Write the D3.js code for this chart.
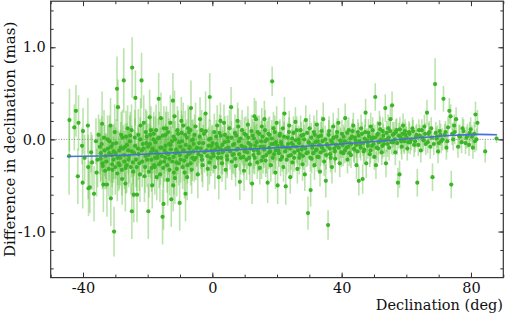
<!DOCTYPE html>
<html>
<head>
<meta charset="utf-8">
<script src="https://cdn.jsdelivr.net/npm/d3@7"></script>
<style>
  body { margin: 0; background: #fff; }
  svg { display: block; }
  text { font-family: "DejaVu Serif", serif; fill: #111; }
</style>
</head>
<body>
<script>
// [declination (deg), difference (mas), error (mas)]
const southCap = [
  [-44.2, 0.21, 0.34], [-44.3, -0.18, 0.42], [-42.2, 0.31, 0.28], [-42.7, 0.13, 0.25],
  [-41.4, 0.18, 0.3], [-41.6, -0.40, 0.3], [-40.1, -0.47, 0.28], [-40.0, 0.09, 0.25],
  [-40.3, -0.07, 0.2], [-39.5, -0.20, 0.25], [-38.5, 0.15, 0.3], [-38.4, -0.30, 0.35],
  [-38.3, -0.53, 0.3], [-37.9, -0.52, 0.28], [-37.5, -0.14, 0.22], [-37.2, -0.25, 0.3],
  [-36.6, -0.59, 0.3], [-36.0, -0.02, 0.25], [-35.8, -0.36, 0.26], [-35.5, -0.22, 0.3],
  [-35.2, 0.05, 0.22]
]
const south = [
  [-34.8, -0.08, 0.3], [-34.1, 0.17, 0.35], [-34.5, -0.15, 0.3], [-34.0, -0.26, 0.28],
  [-33.7, -0.49, 0.3], [-33.5, 0.02, 0.3], [-33.2, -0.34, 0.2], [-33.0, -0.18, 0.25],
  [-32.6, -0.49, 0.35], [-32.3, -0.10, 0.25], [-32.0, -0.32, 0.3], [-31.8, -0.02, 0.28],
  [-31.5, 0.15, 0.3], [-31.4, -0.64, 0.3], [-31.2, -0.17, 0.3], [-31.0, -0.27, 0.25],
  [-30.8, -0.05, 0.2], [-30.6, -0.22, 0.25], [-30.4, -1.00, 0.27], [-30.2, 0.08, 0.3],
  [-30.0, -0.30, 0.3], [-29.9, -0.15, 0.28], [-29.5, 0.55, 0.35], [-29.4, -0.37, 0.3],
  [-29.2, 0.35, 0.3], [-29.0, -0.26, 0.3], [-28.8, -0.12, 0.2], [-28.5, -0.20, 0.3],
  [-28.2, 0.05, 0.25], [-28.0, -0.33, 0.28], [-27.9, -0.43, 0.28], [-27.6, -0.10, 0.25],
  [-27.4, 0.64, 0.35], [-27.2, -0.24, 0.3], [-27.0, -0.08, 0.25], [-26.9, -0.48, 0.3],
  [-26.7, 0.03, 0.28], [-26.5, -0.28, 0.3], [-26.2, 0.12, 0.25], [-26.0, -0.12, 0.25],
  [-25.8, -0.18, 0.3], [-25.5, -0.02, 0.28], [-25.2, -0.30, 0.3], [-25.0, 0.10, 0.28],
  [-24.8, 0.78, 0.33], [-24.9, -0.78, 0.3], [-24.5, -0.35, 0.28], [-24.3, -0.60, 0.3],
  [-24.2, -0.15, 0.25], [-24.0, 0.02, 0.3], [-23.8, 0.45, 0.3], [-23.6, -0.22, 0.3],
  [-23.3, -0.60, 0.3], [-23.0, -0.10, 0.25], [-22.9, 0.05, 0.28], [-22.6, -0.26, 0.3],
  [-22.4, -0.38, 0.3], [-22.2, 0.15, 0.3], [-21.9, 0.64, 0.3], [-21.8, -0.12, 0.25],
  [-21.5, -0.05, 0.25], [-21.2, 0.18, 0.3], [-21.0, -0.40, 0.28], [-20.8, -0.30, 0.28],
  [-20.6, 0.08, 0.25], [-20.4, -0.04, 0.25], [-20.2, -0.22, 0.3]
]
const equatorSouth = [
  [-19.9, -0.08, 0.25], [-19.8, -0.78, 0.3], [-19.6, -0.35, 0.28], [-19.4, 0.24, 0.3],
  [-19.2, 0.05, 0.22], [-19.0, -0.14, 0.28], [-18.9, -0.22, 0.3], [-18.6, -0.50, 0.25],
  [-18.4, -0.12, 0.25], [-18.2, 0.00, 0.25], [-18.0, -0.28, 0.22], [-17.8, -0.30, 0.3],
  [-17.6, -0.03, 0.28], [-17.4, 0.10, 0.28], [-17.2, -0.41, 0.25], [-17.0, -0.20, 0.25],
  [-16.9, -0.16, 0.2], [-16.6, 0.44, 0.28], [-16.4, 0.02, 0.28], [-16.2, -0.38, 0.3],
  [-16.0, -0.25, 0.24], [-15.9, 0.23, 0.28], [-15.7, -0.09, 0.3], [-15.4, -0.84, 0.3],
  [-15.2, -0.31, 0.22], [-15.1, -0.70, 0.28], [-14.8, -0.12, 0.25], [-14.6, -0.20, 0.26],
  [-14.4, 0.05, 0.25], [-14.2, 0.12, 0.24], [-14.0, -0.28, 0.3], [-13.8, -0.44, 0.28],
  [-13.6, -0.16, 0.22], [-13.4, -0.05, 0.28], [-13.2, -0.33, 0.28], [-13.0, 0.18, 0.3],
  [-12.9, -0.06, 0.2], [-12.7, -0.65, 0.3], [-12.4, -0.24, 0.26], [-12.2, 0.42, 0.3],
  [-12.1, -0.50, 0.28], [-12.0, 0.03, 0.24], [-11.7, 0.25, 0.28], [-11.6, -0.42, 0.28],
  [-11.4, -0.15, 0.25], [-11.2, -0.11, 0.22], [-11.0, -0.32, 0.3], [-10.8, 0.10, 0.26],
  [-10.6, 0.06, 0.25], [-10.4, -0.26, 0.24], [-10.1, -0.69, 0.3], [-9.9, -0.08, 0.2],
  [-9.8, -0.22, 0.25], [-9.6, 0.20, 0.26], [-9.4, -0.02, 0.28], [-9.2, -0.30, 0.24],
  [-9.0, 0.15, 0.25], [-8.8, -0.12, 0.22], [-8.6, -0.36, 0.28], [-8.4, 0.05, 0.26],
  [-8.3, -0.59, 0.3], [-8.0, -0.19, 0.24], [-7.8, -0.41, 0.25], [-7.7, -0.28, 0.2],
  [-7.5, 0.12, 0.25], [-7.3, 0.08, 0.26], [-7.1, -0.10, 0.22], [-6.9, -0.15, 0.22],
  [-6.6, 0.34, 0.3], [-6.4, -0.33, 0.26], [-6.2, -0.20, 0.25], [-6.0, 0.00, 0.22],
  [-5.8, -0.05, 0.22], [-5.6, -0.22, 0.24], [-5.2, 0.14, 0.26], [-4.9, -0.10, 0.2],
  [-4.5, -0.38, 0.26], [-4.1, -0.04, 0.22], [-3.8, 0.22, 0.24], [-3.4, -0.18, 0.2],
  [-3.0, -0.28, 0.24], [-2.6, 0.06, 0.22], [-2.1, 0.28, 0.24], [-1.8, -0.12, 0.2],
  [-1.4, -0.32, 0.24], [-1.0, 0.00, 0.22], [-0.8, 0.46, 0.26], [-0.5, -0.20, 0.2],
  [-0.2, -0.07, 0.22]
]
const equatorNorth = [
  [0.2, -0.15, 0.22], [0.6, 0.08, 0.2], [0.8, -0.30, 0.24], [1.3, -0.05, 0.18],
  [1.5, 0.15, 0.22], [1.7, -0.20, 0.2], [2.0, -0.41, 0.24], [2.4, -0.10, 0.18],
  [2.6, 0.04, 0.22], [3.0, -0.26, 0.2], [3.2, -0.14, 0.24], [3.6, 0.18, 0.2],
  [3.8, -0.03, 0.18], [4.1, -0.33, 0.22], [4.5, -0.18, 0.2], [4.7, 0.02, 0.24],
  [5.1, -0.09, 0.18], [5.3, 0.12, 0.2], [5.8, 0.35, 0.22], [6.0, -0.24, 0.2],
  [6.4, -0.06, 0.18], [6.6, -0.16, 0.22], [7.0, 0.07, 0.2], [7.2, -0.29, 0.22],
  [7.6, -0.11, 0.18], [7.8, 0.20, 0.2], [8.2, -0.02, 0.22], [8.5, -0.46, 0.2],
  [8.8, -0.20, 0.18], [9.2, 0.10, 0.22], [9.4, -0.08, 0.2], [9.8, -0.34, 0.22],
  [10.0, -0.13, 0.18], [10.4, 0.05, 0.2], [10.6, -0.22, 0.22], [11.0, 0.16, 0.2],
  [11.2, -0.04, 0.18], [11.6, -0.27, 0.22], [11.8, -0.10, 0.2], [12.1, 0.09, 0.18],
  [12.3, -0.48, 0.22], [12.7, -0.17, 0.2], [12.9, 0.01, 0.18], [13.3, -0.07, 0.22],
  [13.5, 0.22, 0.2], [13.9, -0.25, 0.18], [14.1, -0.12, 0.22], [14.5, 0.06, 0.2],
  [14.7, -0.31, 0.18], [15.1, -0.02, 0.22], [15.3, 0.14, 0.2], [15.7, -0.19, 0.18],
  [15.9, -0.08, 0.2], [16.3, 0.10, 0.22], [16.5, -0.23, 0.18], [16.9, 0.00, 0.2],
  [17.1, -0.47, 0.22], [17.5, -0.14, 0.18], [17.7, 0.05, 0.2], [18.1, -0.28, 0.18],
  [18.3, -0.05, 0.2], [18.5, 0.63, 0.16], [18.9, 0.12, 0.18], [19.1, -0.16, 0.2],
  [19.5, -0.36, 0.18], [19.7, -0.03, 0.2], [19.9, 0.18, 0.18]
]
const midNorth = [
  [20.2, -0.50, 0.2], [20.4, -0.12, 0.18], [20.8, 0.04, 0.16], [21.1, -0.22, 0.18],
  [21.4, -0.06, 0.15], [21.8, 0.12, 0.18], [22.0, -0.30, 0.16], [22.3, 0.28, 0.18],
  [22.7, -0.51, 0.2], [22.9, -0.09, 0.15], [23.3, 0.02, 0.16], [23.6, -0.18, 0.18],
  [23.8, 0.15, 0.16], [24.1, -0.41, 0.18], [24.5, -0.04, 0.15], [24.8, -0.25, 0.16],
  [25.1, 0.07, 0.18], [25.4, -0.14, 0.15], [25.7, 0.19, 0.16], [26.0, -0.08, 0.18],
  [26.3, -0.32, 0.16], [26.7, 0.00, 0.15], [26.9, -0.20, 0.18], [27.3, 0.10, 0.16],
  [27.6, -0.11, 0.15], [27.9, -0.27, 0.18], [28.2, 0.05, 0.16], [28.6, -0.38, 0.18],
  [28.9, 0.21, 0.16], [29.1, -0.15, 0.15], [29.6, -0.80, 0.18], [29.8, -0.03, 0.16],
  [30.1, 0.12, 0.15], [30.4, -0.55, 0.18], [30.7, -0.21, 0.16], [31.0, -0.06, 0.15],
  [31.4, 0.08, 0.18], [31.6, -0.28, 0.16], [32.0, -0.12, 0.15], [32.3, 0.16, 0.16],
  [32.6, -0.02, 0.15], [32.9, -0.19, 0.18], [33.3, -0.35, 0.16], [33.6, 0.04, 0.15],
  [33.9, -0.09, 0.16], [34.3, 0.22, 0.18], [34.6, -0.24, 0.16], [35.1, -0.45, 0.18],
  [35.4, -0.05, 0.15], [35.8, -0.93, 0.16], [36.1, 0.09, 0.16], [36.4, -0.16, 0.15],
  [36.8, -0.01, 0.16], [37.0, -0.30, 0.18], [37.4, 0.14, 0.15], [37.7, -0.10, 0.16],
  [38.0, -0.21, 0.15], [38.4, 0.03, 0.16], [38.7, -0.07, 0.15], [39.0, 0.18, 0.16],
  [39.4, -0.26, 0.15], [39.7, -0.04, 0.16]
]
const north = [
  [40.1, 0.06, 0.15], [40.5, -0.15, 0.14], [40.8, -0.02, 0.15], [41.1, 0.23, 0.16],
  [41.5, -0.09, 0.14], [41.8, -0.22, 0.15], [42.2, 0.10, 0.14], [42.5, -0.04, 0.15],
  [42.9, -0.17, 0.14], [43.2, 0.03, 0.15], [43.6, 0.15, 0.14], [43.9, -0.11, 0.15],
  [44.3, -0.01, 0.14], [44.6, -0.28, 0.15], [45.0, 0.08, 0.14], [45.3, -0.45, 0.16],
  [45.7, -0.06, 0.14], [46.0, 0.12, 0.15], [46.5, -0.43, 0.16], [46.8, -0.13, 0.14],
  [47.1, 0.01, 0.15], [47.4, 0.29, 0.15], [47.6, -0.26, 0.16], [48.0, -0.03, 0.14],
  [48.3, 0.07, 0.15], [48.7, -0.16, 0.14], [49.0, 0.14, 0.15], [49.4, -0.07, 0.14],
  [49.7, 0.02, 0.15], [50.1, -0.19, 0.14], [50.4, 0.46, 0.15], [50.6, -0.28, 0.15],
  [51.0, 0.05, 0.14], [51.3, -0.10, 0.15], [51.7, 0.17, 0.14], [52.0, -0.02, 0.15],
  [52.4, -0.14, 0.14], [52.7, 0.09, 0.15], [53.1, -0.05, 0.14], [53.5, 0.34, 0.15],
  [53.7, -0.26, 0.15], [54.0, 0.00, 0.14], [54.4, 0.12, 0.15], [54.7, -0.09, 0.14],
  [55.1, 0.22, 0.15], [55.6, 0.37, 0.15], [55.9, -0.03, 0.14], [56.2, 0.06, 0.13],
  [56.6, -0.14, 0.14], [57.0, 0.10, 0.13], [57.4, -0.47, 0.16], [57.9, -0.38, 0.15],
  [58.2, 0.02, 0.13], [58.6, -0.08, 0.14], [59.0, 0.15, 0.13], [59.4, -0.02, 0.14],
  [59.8, 0.05, 0.13]
]
const northCap = [
  [60.3, -0.10, 0.13], [60.8, 0.08, 0.12], [61.2, -0.03, 0.13], [61.9, 0.12, 0.12],
  [62.4, -0.06, 0.13], [63.0, 0.03, 0.12], [63.4, -0.47, 0.15], [63.9, 0.10, 0.12],
  [64.5, -0.12, 0.13], [65.0, 0.02, 0.12], [65.6, 0.14, 0.13], [66.0, -0.05, 0.12],
  [66.4, 0.29, 0.14], [66.9, 0.06, 0.12], [67.4, -0.08, 0.13], [67.7, 0.12, 0.12],
  [68.1, -0.41, 0.15], [68.9, 0.60, 0.28], [69.3, 0.01, 0.12], [69.8, -0.13, 0.13],
  [70.3, 0.09, 0.12], [70.8, -0.02, 0.13], [71.5, 0.44, 0.14], [71.9, 0.05, 0.12],
  [72.4, -0.09, 0.13], [72.9, 0.13, 0.12], [73.3, 0.31, 0.14], [73.7, 0.25, 0.13],
  [73.9, -0.49, 0.15], [74.5, 0.00, 0.12], [75.0, 0.08, 0.13], [75.4, 0.22, 0.13],
  [76.0, -0.08, 0.12], [76.6, 0.03, 0.13], [77.1, -0.03, 0.12], [77.7, 0.09, 0.13],
  [78.3, -0.04, 0.12], [78.9, 0.04, 0.13], [79.4, -0.06, 0.12], [79.9, 0.11, 0.13],
  [80.6, -0.09, 0.12], [81.0, 0.06, 0.13], [81.4, 0.27, 0.14], [81.7, 0.00, 0.12],
  [82.0, 0.18, 0.14], [84.4, -0.13, 0.12], [87.9, 0.01, 0.05]
]
// the dense core of the cloud, close to the fit
const coreSouth = [
  [-34.6, -0.21, 0.26], [-34.2, -0.05, 0.3], [-33.9, -0.29, 0.24], [-33.3, -0.12, 0.28],
  [-32.8, -0.24, 0.3], [-32.4, 0.00, 0.26], [-31.9, -0.15, 0.3], [-31.3, -0.08, 0.24],
  [-30.9, -0.33, 0.28], [-30.5, -0.13, 0.3], [-29.7, -0.04, 0.26], [-29.3, -0.20, 0.3],
  [-28.7, -0.28, 0.26], [-28.3, -0.09, 0.28], [-27.8, 0.02, 0.3], [-27.3, -0.17, 0.26],
  [-26.8, -0.31, 0.28], [-26.4, -0.06, 0.24], [-25.9, -0.22, 0.3], [-25.4, 0.04, 0.26],
  [-24.9, -0.13, 0.28], [-24.6, -0.25, 0.24], [-23.9, -0.07, 0.3], [-23.4, -0.30, 0.26],
  [-22.8, -0.16, 0.28], [-22.3, 0.00, 0.24], [-21.7, -0.24, 0.28], [-21.3, -0.10, 0.26],
  [-20.7, -0.18, 0.24], [-20.3, 0.03, 0.28],
  [-19.7, -0.17, 0.24], [-19.3, -0.05, 0.22], [-18.8, -0.31, 0.26], [-18.5, -0.10, 0.22],
  [-18.1, 0.06, 0.24], [-17.7, -0.20, 0.2], [-17.3, -0.13, 0.24], [-16.8, 0.01, 0.22],
  [-16.5, -0.27, 0.26], [-16.1, -0.09, 0.22], [-15.6, -0.18, 0.24], [-15.3, 0.04, 0.2],
  [-14.9, -0.24, 0.22], [-14.5, -0.07, 0.24], [-14.1, -0.15, 0.2], [-13.7, 0.08, 0.22],
  [-13.3, -0.21, 0.24], [-12.8, -0.11, 0.2], [-12.5, -0.02, 0.22], [-12.0, -0.19, 0.24],
  [-11.5, 0.00, 0.2], [-11.1, -0.25, 0.22], [-10.7, -0.14, 0.24], [-10.3, -0.03, 0.2],
  [-10.0, -0.17, 0.22], [-9.5, 0.07, 0.24], [-9.1, -0.12, 0.2], [-8.7, -0.23, 0.22],
  [-8.2, -0.06, 0.24], [-7.9, 0.02, 0.2], [-7.4, -0.16, 0.22], [-7.0, -0.08, 0.2],
  [-6.7, -0.26, 0.24], [-6.3, -0.01, 0.22], [-5.9, -0.13, 0.2], [-5.5, 0.05, 0.22],
  [-5.1, -0.20, 0.24], [-4.7, -0.09, 0.2], [-4.3, -0.16, 0.22], [-3.9, 0.03, 0.2],
  [-3.6, -0.10, 0.22], [-3.2, -0.22, 0.24], [-2.8, -0.04, 0.2], [-2.4, -0.14, 0.22],
  [-2.0, 0.09, 0.2], [-1.6, -0.18, 0.22], [-1.2, -0.07, 0.2], [-0.9, -0.25, 0.24],
  [-0.6, 0.01, 0.2], [-0.3, -0.12, 0.22], [-19.0, 0.10, 0.26], [-15.0, 0.12, 0.24],
  [-11.9, -0.36, 0.24], [-6.8, 0.10, 0.22], [-3.3, 0.10, 0.22]
]
const coreNorth = [
  [0.1, -0.04, 0.2], [0.4, -0.18, 0.18], [0.9, -0.11, 0.2], [1.2, 0.03, 0.18],
  [1.6, -0.08, 0.2], [1.9, -0.15, 0.18], [2.2, 0.07, 0.2], [2.7, -0.20, 0.18],
  [3.1, -0.06, 0.2], [3.4, -0.12, 0.18], [3.9, 0.05, 0.2], [4.3, -0.10, 0.18],
  [4.6, -0.22, 0.2], [4.9, -0.02, 0.18], [5.5, -0.13, 0.2], [5.9, 0.02, 0.18],
  [6.2, -0.17, 0.2], [6.8, -0.05, 0.18], [7.1, -0.21, 0.2], [7.4, 0.04, 0.18],
  [7.9, -0.10, 0.2], [8.3, -0.16, 0.18], [8.7, 0.01, 0.2], [9.0, -0.07, 0.18],
  [9.6, -0.19, 0.2], [9.9, 0.06, 0.18], [10.2, -0.09, 0.2], [10.8, -0.14, 0.18],
  [11.1, 0.02, 0.2], [11.4, -0.20, 0.18], [11.9, -0.06, 0.2], [12.5, 0.04, 0.18],
  [12.8, -0.12, 0.2], [13.1, -0.20, 0.18], [13.7, -0.03, 0.2], [14.0, 0.08, 0.18],
  [14.3, -0.15, 0.2], [14.9, -0.08, 0.18], [15.2, -0.23, 0.2], [15.5, 0.03, 0.18],
  [16.0, -0.11, 0.2], [16.4, -0.02, 0.18], [16.7, -0.17, 0.2], [17.3, 0.06, 0.18],
  [17.6, -0.09, 0.2], [17.9, -0.13, 0.18], [18.4, 0.01, 0.2], [18.7, -0.20, 0.18],
  [19.0, -0.05, 0.2], [19.3, 0.08, 0.18], [19.6, -0.12, 0.2], [2.5, 0.20, 0.2],
  [8.0, 0.14, 0.2], [13.0, 0.25, 0.2], [16.1, 0.22, 0.2],
  [20.1, -0.07, 0.16], [20.6, -0.15, 0.15], [20.9, 0.06, 0.16], [21.3, -0.03, 0.15],
  [21.6, -0.19, 0.16], [21.9, -0.08, 0.15], [22.2, 0.03, 0.16], [22.5, -0.13, 0.15],
  [23.0, -0.22, 0.16], [23.4, -0.05, 0.15], [23.7, 0.08, 0.16], [24.0, -0.10, 0.15],
  [24.3, -0.17, 0.16], [24.7, 0.01, 0.15], [25.0, -0.06, 0.16], [25.3, -0.20, 0.15],
  [25.8, -0.01, 0.16], [26.1, 0.10, 0.15], [26.5, -0.12, 0.16], [26.8, -0.04, 0.15],
  [27.1, -0.16, 0.16], [27.5, 0.04, 0.15], [27.8, -0.08, 0.16], [28.1, -0.18, 0.15],
  [28.4, 0.00, 0.16], [28.8, -0.10, 0.15], [29.3, 0.07, 0.16], [29.5, -0.14, 0.15],
  [30.0, -0.04, 0.16], [30.3, -0.20, 0.15], [30.6, 0.02, 0.16], [30.9, -0.09, 0.15],
  [31.2, -0.15, 0.16], [31.7, 0.05, 0.15], [31.9, -0.03, 0.16], [32.2, -0.11, 0.15],
  [32.5, -0.19, 0.16], [32.8, 0.03, 0.15], [33.1, -0.06, 0.16], [33.5, -0.14, 0.15],
  [33.8, 0.09, 0.16], [34.1, -0.02, 0.15], [34.5, -0.12, 0.16], [34.9, 0.00, 0.15],
  [35.2, -0.17, 0.16], [35.6, -0.07, 0.15], [36.0, 0.05, 0.16], [36.3, -0.10, 0.15],
  [36.6, -0.20, 0.16], [37.1, -0.04, 0.15], [37.5, 0.02, 0.16], [37.9, -0.13, 0.15],
  [38.2, -0.06, 0.16], [38.6, 0.08, 0.15], [39.1, -0.09, 0.16], [39.5, -0.01, 0.15],
  [39.9, -0.14, 0.16]
]
const coreFarNorth = [
  [40.3, -0.06, 0.14], [40.6, 0.03, 0.13], [41.0, -0.12, 0.14], [41.3, -0.03, 0.13],
  [41.7, 0.07, 0.14], [42.0, -0.08, 0.13], [42.4, -0.15, 0.14], [42.7, 0.01, 0.13],
  [43.0, -0.05, 0.14], [43.4, 0.09, 0.13], [43.8, -0.10, 0.14], [44.1, 0.02, 0.13],
  [44.5, -0.06, 0.14], [44.9, -0.13, 0.13], [45.2, 0.04, 0.14], [45.5, -0.02, 0.13],
  [45.9, -0.09, 0.14], [46.3, 0.06, 0.13], [46.6, -0.04, 0.14], [47.0, -0.11, 0.13],
  [47.3, 0.08, 0.14], [47.8, -0.01, 0.13], [48.1, -0.07, 0.14], [48.5, 0.03, 0.13],
  [48.9, -0.12, 0.14], [49.2, 0.00, 0.13], [49.6, 0.10, 0.14], [49.9, -0.05, 0.13],
  [50.3, 0.02, 0.14], [50.8, -0.09, 0.13], [51.2, 0.06, 0.14], [51.5, -0.03, 0.13],
  [51.9, 0.11, 0.14], [52.2, 0.00, 0.13], [52.6, -0.07, 0.14], [52.9, 0.04, 0.13],
  [53.3, -0.01, 0.14], [53.9, 0.07, 0.13], [54.2, -0.05, 0.14], [54.6, 0.02, 0.13],
  [55.0, 0.09, 0.14], [55.4, -0.03, 0.13], [55.8, 0.05, 0.14], [56.4, 0.00, 0.13],
  [56.8, 0.08, 0.14], [57.2, -0.04, 0.13], [57.7, 0.04, 0.14], [58.0, 0.11, 0.13],
  [58.4, -0.02, 0.14], [58.8, 0.06, 0.13], [59.2, 0.00, 0.14], [59.6, 0.09, 0.13],
  [60.1, 0.02, 0.12], [60.6, -0.03, 0.12], [61.0, 0.06, 0.12], [61.5, 0.00, 0.12],
  [62.1, 0.09, 0.12], [62.7, -0.02, 0.12], [63.2, 0.05, 0.12], [63.7, -0.06, 0.12],
  [64.2, 0.04, 0.12], [64.8, 0.10, 0.12], [65.3, -0.01, 0.12], [65.8, 0.06, 0.12],
  [66.6, -0.03, 0.12], [67.1, 0.08, 0.12], [67.9, 0.02, 0.12], [68.5, -0.05, 0.12],
  [69.1, 0.07, 0.12], [69.6, 0.03, 0.12], [70.1, -0.04, 0.12], [70.6, 0.05, 0.12],
  [71.2, 0.00, 0.12], [72.1, 0.08, 0.12], [72.7, -0.02, 0.12], [74.2, 0.06, 0.12],
  [74.8, 0.15, 0.12], [76.3, 0.04, 0.12], [77.4, 0.12, 0.12], [78.6, 0.02, 0.12],
  [79.6, 0.07, 0.12], [80.3, 0.03, 0.12], [81.2, -0.02, 0.12]
]
// smooth fit (blue curve)
const fitDecl = [-45, -30, -15, 0, 20, 40, 55, 65, 75, 82, 88]
const fitDiff = [-0.185, -0.175, -0.15, -0.125, -0.09, -0.05, -0.01, 0.02, 0.045, 0.055, 0.05]

const xTicks = [-40, 0, 40, 80]
const yTicks = [-1, 0, 1]

const points = [].concat(southCap, south, equatorSouth, equatorNorth, midNorth, north, northCap,
  coreSouth, coreNorth, coreFarNorth)

const svg = d3.select('body').append('svg')
  .attr('width', 506)
  .attr('height', 314)

const x = d3.scaleLinear().domain([-50, 90]).range([50.7, 503.3])
const y = d3.scaleLinear().domain([-1.5, 1.5]).range([277.6, 1.2])

// zero line
svg.append('line')
  .attr('x1', x(-50)).attr('x2', x(90))
  .attr('y1', y(0)).attr('y2', y(0))
  .attr('stroke', '#777')
  .attr('stroke-width', 0.9)
  .attr('stroke-dasharray', '1,1.6')

// error bars
svg.append('g')
  .attr('stroke', '#5cbf3c')
  .attr('stroke-opacity', 0.42)
  .attr('stroke-width', 1.6)
  .selectAll('line')
  .data(points)
  .enter()
  .append('line')
  .attr('x1', d => x(d[0]))
  .attr('x2', d => x(d[0]))
  .attr('y1', d => y(d[1] - d[2]))
  .attr('y2', d => y(d[1] + d[2]))

// points
svg.append('g')
  .selectAll('circle')
  .data(points)
  .enter()
  .append('circle')
  .attr('cx', d => x(d[0]))
  .attr('cy', d => y(d[1]))
  .attr('r', 2.1)
  .attr('fill', '#3cb428')

// fit line
const fit = fitDecl.map((d, i) => [d, fitDiff[i]])
svg.append('path')
  .datum(fit)
  .attr('fill', 'none')
  .attr('stroke', '#4a6fd6')
  .attr('stroke-width', 1.6)
  .attr('d', d3.line().x(d => x(d[0])).y(d => y(d[1])).curve(d3.curveMonotoneX))

// axes: ticks inward on all four sides
const fmtX = d => String(d)
const fmtY = d => d.toFixed(1)
const minorX = d3.range(-50, 91, 10)
const minorY = d3.range(-14, 15, 2).map(v => v / 10)

function axisGroup(axis, tx, ty) {
  const g = svg.append('g').attr('transform', `translate(${tx},${ty})`).call(axis)
  g.select('.domain').remove()
  g.selectAll('line').attr('stroke', '#333')
  return g
}

axisGroup(d3.axisBottom(x).tickValues(minorX).tickSize(-3).tickFormat(''), 0, y(-1.5))
axisGroup(d3.axisTop(x).tickValues(minorX).tickSize(-3).tickFormat(''), 0, y(1.5))
axisGroup(d3.axisLeft(y).tickValues(minorY).tickSize(-3).tickFormat(''), x(-50), 0)
axisGroup(d3.axisRight(y).tickValues(minorY).tickSize(-3).tickFormat(''), x(90), 0)

axisGroup(d3.axisBottom(x).tickValues(xTicks).tickSize(-5).tickPadding(5.5).tickFormat(fmtX), 0, y(-1.5))
axisGroup(d3.axisTop(x).tickValues(xTicks).tickSize(-5).tickFormat(''), 0, y(1.5))
axisGroup(d3.axisLeft(y).tickValues(yTicks).tickSize(-5).tickPadding(5).tickFormat(fmtY), x(-50), 0)
axisGroup(d3.axisRight(y).tickValues(yTicks).tickSize(-5).tickFormat(''), x(90), 0)

svg.selectAll('.tick text')
  .attr('font-family', '"DejaVu Serif", serif')
  .attr('font-size', 14.5)
  .attr('fill', '#111')

// frame
svg.append('rect')
  .attr('x', x(-50)).attr('y', y(1.5))
  .attr('width', x(90) - x(-50)).attr('height', y(-1.5) - y(1.5))
  .attr('fill', 'none')
  .attr('stroke', '#333')
  .attr('stroke-width', 1.2)

svg.append('text')
  .attr('x', 503)
  .attr('y', 309.5)
  .attr('text-anchor', 'end')
  .attr('font-size', 14.5)
  .text('Declination (deg)')

svg.append('text')
  .attr('transform', `translate(14.5,${(y(1.5) + y(-1.5)) / 2})rotate(-90)`)
  .attr('text-anchor', 'middle')
  .attr('font-size', 15)
  .text('Difference in declination (mas)')
</script>
</body>
</html>
